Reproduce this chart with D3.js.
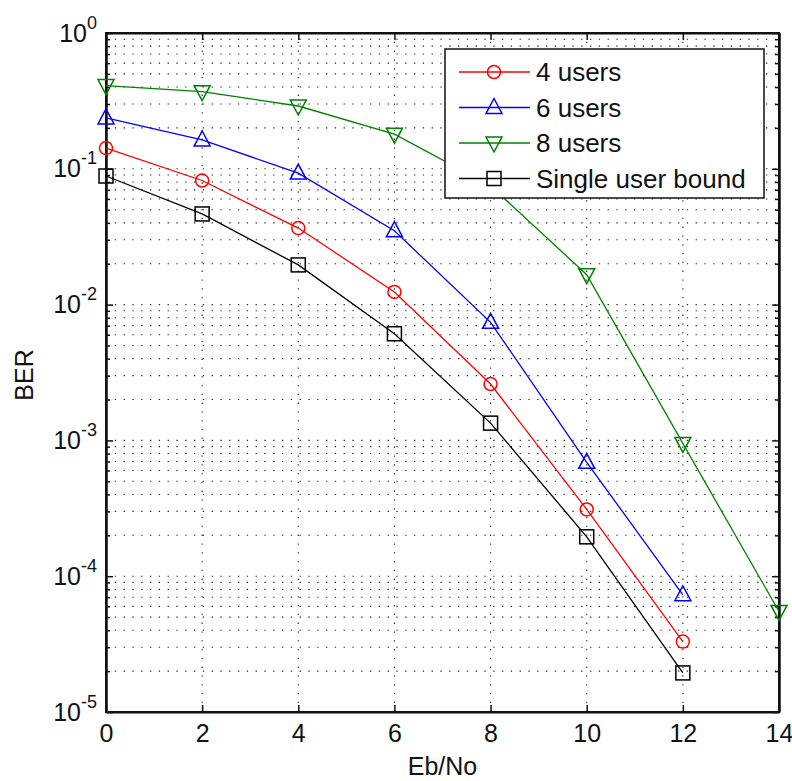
<!DOCTYPE html>
<html lang="en">
<head>
    <meta charset="UTF-8">
    <title>BER vs Eb/No</title>
    <script src="https://cdn.jsdelivr.net/npm/d3@7"></script>
    <style>
        body { margin: 0; background: #fff; }
        svg { font-family: "Liberation Sans", Arial, sans-serif; }
    </style>
</head>
<body>
    <script>
        // values
        var ebno = [0, 2, 4, 6, 8, 10, 12, 14];
        var users4 = [0.142, 0.082, 0.0366, 0.0124, 0.0026, 0.00031, 0.000033];
        var users6 = [0.237, 0.163, 0.093, 0.035, 0.0074, 0.00069, 0.000073];
        var users8 = [0.41, 0.37, 0.29, 0.18, 0.075, 0.0166, 0.00095, 0.000055];
        var single = [0.0885, 0.0465, 0.0196, 0.0061, 0.00134, 0.000195, 0.0000194];
        var seriesNames = ['4 users', '6 users', '8 users', 'Single user bound'];
        var xTicks = [0, 2, 4, 6, 8, 10, 12, 14];
        var yDecades = [1, 1e-1, 1e-2, 1e-3, 1e-4, 1e-5];
        var yExponents = ['0', '-1', '-2', '-3', '-4', '-5'];

        var width = 792;
        var height = 781;
        var margin = {left: 106, top: 33, right: 13, bottom: 69};
        var w = width - margin.left - margin.right;
        var h = height - margin.top - margin.bottom;

        var svg = d3.select('body').append('svg').attr('width', width).attr('height', height);
        var g = svg.append('g').attr('transform', 'translate(' + margin.left + ',' + margin.top + ')');

        var x = d3.scaleLinear().domain([0, 14]).range([0, w]);
        var y = d3.scaleLog().domain([1e-5, 1]).range([h, 0]);

        // minor log values between decades
        var minors = [];
        for (var e = -5; e < 0; e++) {
            for (var m = 2; m <= 9; m++) minors.push(m * Math.pow(10, e));
        }

        // dotted grid
        var grid = g.append('g').attr('stroke', '#222').attr('stroke-width', 1.1)
            .attr('stroke-dasharray', '1.3,7.5');
        grid.selectAll('.gy').data(yDecades.concat(minors)).enter().append('line')
            .attr('x1', 0).attr('x2', w)
            .attr('y1', function(d) { return y(d); }).attr('y2', function(d) { return y(d); });
        grid.selectAll('.gx').data(xTicks).enter().append('line')
            .attr('y1', 0).attr('y2', h)
            .attr('x1', function(d) { return x(d); }).attr('x2', function(d) { return x(d); });

        // axes, ticks pointing inside
        var xAxis = g.append('g').attr('transform', 'translate(0,' + h + ')')
            .call(d3.axisBottom(x).tickValues(xTicks).tickSizeInner(-7).tickSizeOuter(0).tickPadding(12));
        xAxis.selectAll('text').attr('font-size', 25).attr('fill', '#111');

        g.append('g')
            .call(d3.axisTop(x).tickValues(xTicks).tickSizeInner(-7).tickSizeOuter(0).tickFormat(''));

        var yAxis = g.append('g')
            .call(d3.axisLeft(y).tickValues(yDecades).tickSizeInner(-7).tickSizeOuter(0).tickPadding(9));
        yAxis.selectAll('text').attr('fill', '#111').each(function(d, i) {
            var t = d3.select(this);
            t.text('');
            t.append('tspan').attr('font-size', 25).attr('dy', '0.32em').text('10');
            t.append('tspan').attr('font-size', 18).attr('dy', -13).text(yExponents[i]);
        });
        yAxis.selectAll('text').attr('dy', null);

        g.append('g')
            .call(d3.axisLeft(y).tickValues(minors).tickSizeInner(-4).tickSizeOuter(0).tickFormat(''));
        g.append('g').attr('transform', 'translate(' + w + ',0)')
            .call(d3.axisRight(y).tickValues(yDecades).tickSizeInner(-7).tickSizeOuter(0).tickFormat(''));
        g.append('g').attr('transform', 'translate(' + w + ',0)')
            .call(d3.axisRight(y).tickValues(minors).tickSizeInner(-4).tickSizeOuter(0).tickFormat(''));

        g.selectAll('.domain').attr('stroke', '#111').attr('stroke-width', 2);
        g.selectAll('.tick line').attr('stroke', '#111').attr('stroke-width', 1.5);

        // box
        g.append('rect').attr('width', w).attr('height', h)
            .attr('fill', 'none').attr('stroke', '#111').attr('stroke-width', 2);

        // series
        var series = [
            {name: seriesNames[0], values: users4, color: '#ff0000', marker: 'circle'},
            {name: seriesNames[1], values: users6, color: '#0000ff', marker: 'up'},
            {name: seriesNames[2], values: users8, color: '#008000', marker: 'down'},
            {name: seriesNames[3], values: single, color: '#000000', marker: 'square'}
        ];

        function drawMarker(sel, type, color) {
            if (type == 'circle') {
                sel.append('circle').attr('r', 6.5);
            } else if (type == 'square') {
                sel.append('rect').attr('x', -7).attr('y', -7).attr('width', 14).attr('height', 14);
            } else if (type == 'up') {
                sel.append('path').attr('d', 'M0,-9L8,6L-8,6Z');
            } else {
                sel.append('path').attr('d', 'M0,9L8,-6L-8,-6Z');
            }
            sel.selectAll('*').attr('fill', 'none').attr('stroke', color).attr('stroke-width', 1.5);
        }

        var line = d3.line()
            .x(function(d, i) { return x(ebno[i]); })
            .y(function(d) { return y(d); });

        series.forEach(function(s) {
            g.append('path').datum(s.values)
                .attr('fill', 'none').attr('stroke', s.color).attr('stroke-width', 1.3)
                .attr('d', line);
            g.selectAll(null).data(s.values).enter().append('g')
                .attr('transform', function(d, i) { return 'translate(' + x(ebno[i]) + ',' + y(d) + ')'; })
                .each(function() { drawMarker(d3.select(this), s.marker, s.color); });
        });

        // legend
        var legend = svg.append('g').attr('transform', 'translate(445,49)');
        legend.append('rect').attr('width', 319).attr('height', 149)
            .attr('fill', '#fff').attr('stroke', '#111').attr('stroke-width', 1.5);
        var rows = legend.selectAll('.row').data(series).enter().append('g')
            .attr('transform', function(d, i) { return 'translate(0,' + (23 + i * 35.5) + ')'; });
        rows.append('line').attr('x1', 14).attr('x2', 85)
            .attr('stroke', function(d) { return d.color; }).attr('stroke-width', 1.3);
        rows.append('g').attr('transform', 'translate(49,0)')
            .each(function(d) { drawMarker(d3.select(this), d.marker, d.color); });
        rows.append('text').attr('x', 91).attr('dy', '0.36em').attr('font-size', 26).attr('fill', '#111')
            .text(function(d) { return d.name; });

        // axis titles
        svg.append('text').attr('x', margin.left + w / 2).attr('y', 775)
            .attr('text-anchor', 'middle').attr('font-size', 25).attr('fill', '#111').text('Eb/No');
        svg.append('text').attr('transform', 'translate(33,375) rotate(-90)')
            .attr('text-anchor', 'middle').attr('font-size', 25).attr('fill', '#111').text('BER');
    </script>
</body>
</html>
